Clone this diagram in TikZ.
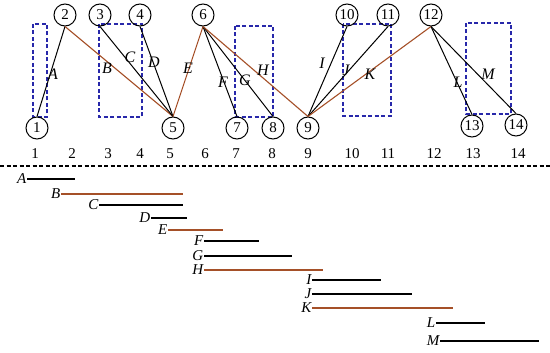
\documentclass[tikz,border=0pt]{standalone}
\usepackage{fontspec}
\setmainfont{Liberation Serif}
\begin{document}
\begin{tikzpicture}[x=1pt,y=-1pt,
  vtx/.style={circle,draw,line width=1pt,inner sep=0pt,minimum size=22pt,font=\fontsize{15}{15}\selectfont},
  num/.style={font=\fontsize{15}{15}\selectfont},
  lab/.style={font=\fontsize{16}{16}\selectfont\itshape,inner sep=1pt},
  blab/.style={font=\fontsize{15}{15}\selectfont\itshape,inner sep=0.5pt,anchor=east},
  blk/.style={line width=1pt,black},
  brn/.style={line width=1.1pt,draw=brn},
  box/.style={draw=boxc,line width=1.15pt,dash pattern=on 4pt off 2.5pt},
  kbar/.style={line width=1.4pt,draw=black},
  rbar/.style={line width=1.4pt,draw=brn}]
\definecolor{brn}{RGB}{165,80,40}
\definecolor{boxc}{RGB}{40,40,170}
\useasboundingbox (0,0) rectangle (550,353);
% dashed boxes
\draw[box] (33,24) rectangle (47,117);
\draw[box] (99,24) rectangle (142,117);
\draw[box] (235,26) rectangle (273,117);
\draw[box] (343,24) rectangle (391,116);
\draw[box] (466,23) rectangle (511,114);
% vertices
\node[vtx] (n1) at (37,128) {1};
\node[vtx] (n2) at (65,15) {2};
\node[vtx] (n3) at (100,15) {3};
\node[vtx] (n4) at (140,15) {4};
\node[vtx] (n5) at (173,128) {5};
\node[vtx] (n6) at (203,15) {6};
\node[vtx] (n7) at (237,128) {7};
\node[vtx] (n8) at (273,128) {8};
\node[vtx] (n9) at (308,128) {9};
\node[vtx] (n10) at (347,15) {10};
\node[vtx] (n11) at (388,15) {11};
\node[vtx] (n12) at (431,15) {12};
\node[vtx] (n13) at (472,126) {13};
\node[vtx] (n14) at (516,125) {14};
% edges
\draw[blk] (n2.south) -- (n1.north);
\draw[brn] (n2.south) -- (n5.north);
\draw[blk] (n3.south) -- (n5.north);
\draw[blk] (n4.south) -- (n5.north);
\draw[brn] (n6.south) -- (n5.north);
\draw[blk] (n6.south) -- (n7.north);
\draw[blk] (n6.south) -- (n8.north);
\draw[brn] (n6.south) -- (n9.north);
\draw[blk] (n10.south) -- (n9.north);
\draw[blk] (n11.south) -- (n9.north);
\draw[brn] (n12.south) -- (n9.north);
\draw[blk] (n12.south) -- (n13.north);
\draw[blk] (n12.south) -- (n14.north);
% edge labels
\node[lab] (eA) at (53,74) {A};
\node[lab] (eB) at (107,68) {B};
\node[lab] (eC) at (130,57) {C};
\node[lab] (eD) at (154,62) {D};
\node[lab] (eE) at (188,68) {E};
\node[lab] (eF) at (223,82) {F};
\node[lab] (eG) at (245,80) {G};
\node[lab] (eH) at (263,70) {H};
\node[lab] (eI) at (322,63) {I};
\node[lab] (eJ) at (346,70) {J};
\node[lab] (eK) at (370,74) {K};
\node[lab] (eL) at (458,82) {L};
\node[lab] (eM) at (488,74) {M};
% numbers
\foreach \x/\t in {35/1,72/2,108/3,140/4,170/5,205/6,236/7,272/8,308/9,352/10,388/11,434/12,473/13,518/14}
  \node[num] (c\t) at (\x,154) {\t};
% separator
\coordinate (s1) at (0,166);
\coordinate (s2) at (550,166);
\draw[line width=1.1pt,dash pattern=on 4pt off 2.5pt] (s1) -- (s2);
% bars
\node[blab] (bA) at (27,179) {A};
\coordinate (bA2) at (75,179);
\draw[kbar] (bA.east) -- (bA2);
\node[blab] (bB) at (61,194) {B};
\coordinate (bB2) at (183,194);
\draw[rbar] (bB.east) -- (bB2);
\node[blab] (bC) at (99,205) {C};
\coordinate (bC2) at (183,205);
\draw[kbar] (bC.east) -- (bC2);
\node[blab] (bD) at (151,218) {D};
\coordinate (bD2) at (187,218);
\draw[kbar] (bD.east) -- (bD2);
\node[blab] (bE) at (168,230) {E};
\coordinate (bE2) at (223,230);
\draw[rbar] (bE.east) -- (bE2);
\node[blab] (bF) at (204,241) {F};
\coordinate (bF2) at (259,241);
\draw[kbar] (bF.east) -- (bF2);
\node[blab] (bG) at (204,256) {G};
\coordinate (bG2) at (292,256);
\draw[kbar] (bG.east) -- (bG2);
\node[blab] (bH) at (204,270) {H};
\coordinate (bH2) at (323,270);
\draw[rbar] (bH.east) -- (bH2);
\node[blab] (bI) at (312,280) {I};
\coordinate (bI2) at (381,280);
\draw[kbar] (bI.east) -- (bI2);
\node[blab] (bJ) at (312,294) {J};
\coordinate (bJ2) at (412,294);
\draw[kbar] (bJ.east) -- (bJ2);
\node[blab] (bK) at (312,308) {K};
\coordinate (bK2) at (453,308);
\draw[rbar] (bK.east) -- (bK2);
\node[blab] (bL) at (436,323) {L};
\coordinate (bL2) at (485,323);
\draw[kbar] (bL.east) -- (bL2);
\node[blab] (bM) at (440,341) {M};
\coordinate (bM2) at (539,341);
\draw[kbar] (bM.east) -- (bM2);
\end{tikzpicture}
\end{document}
